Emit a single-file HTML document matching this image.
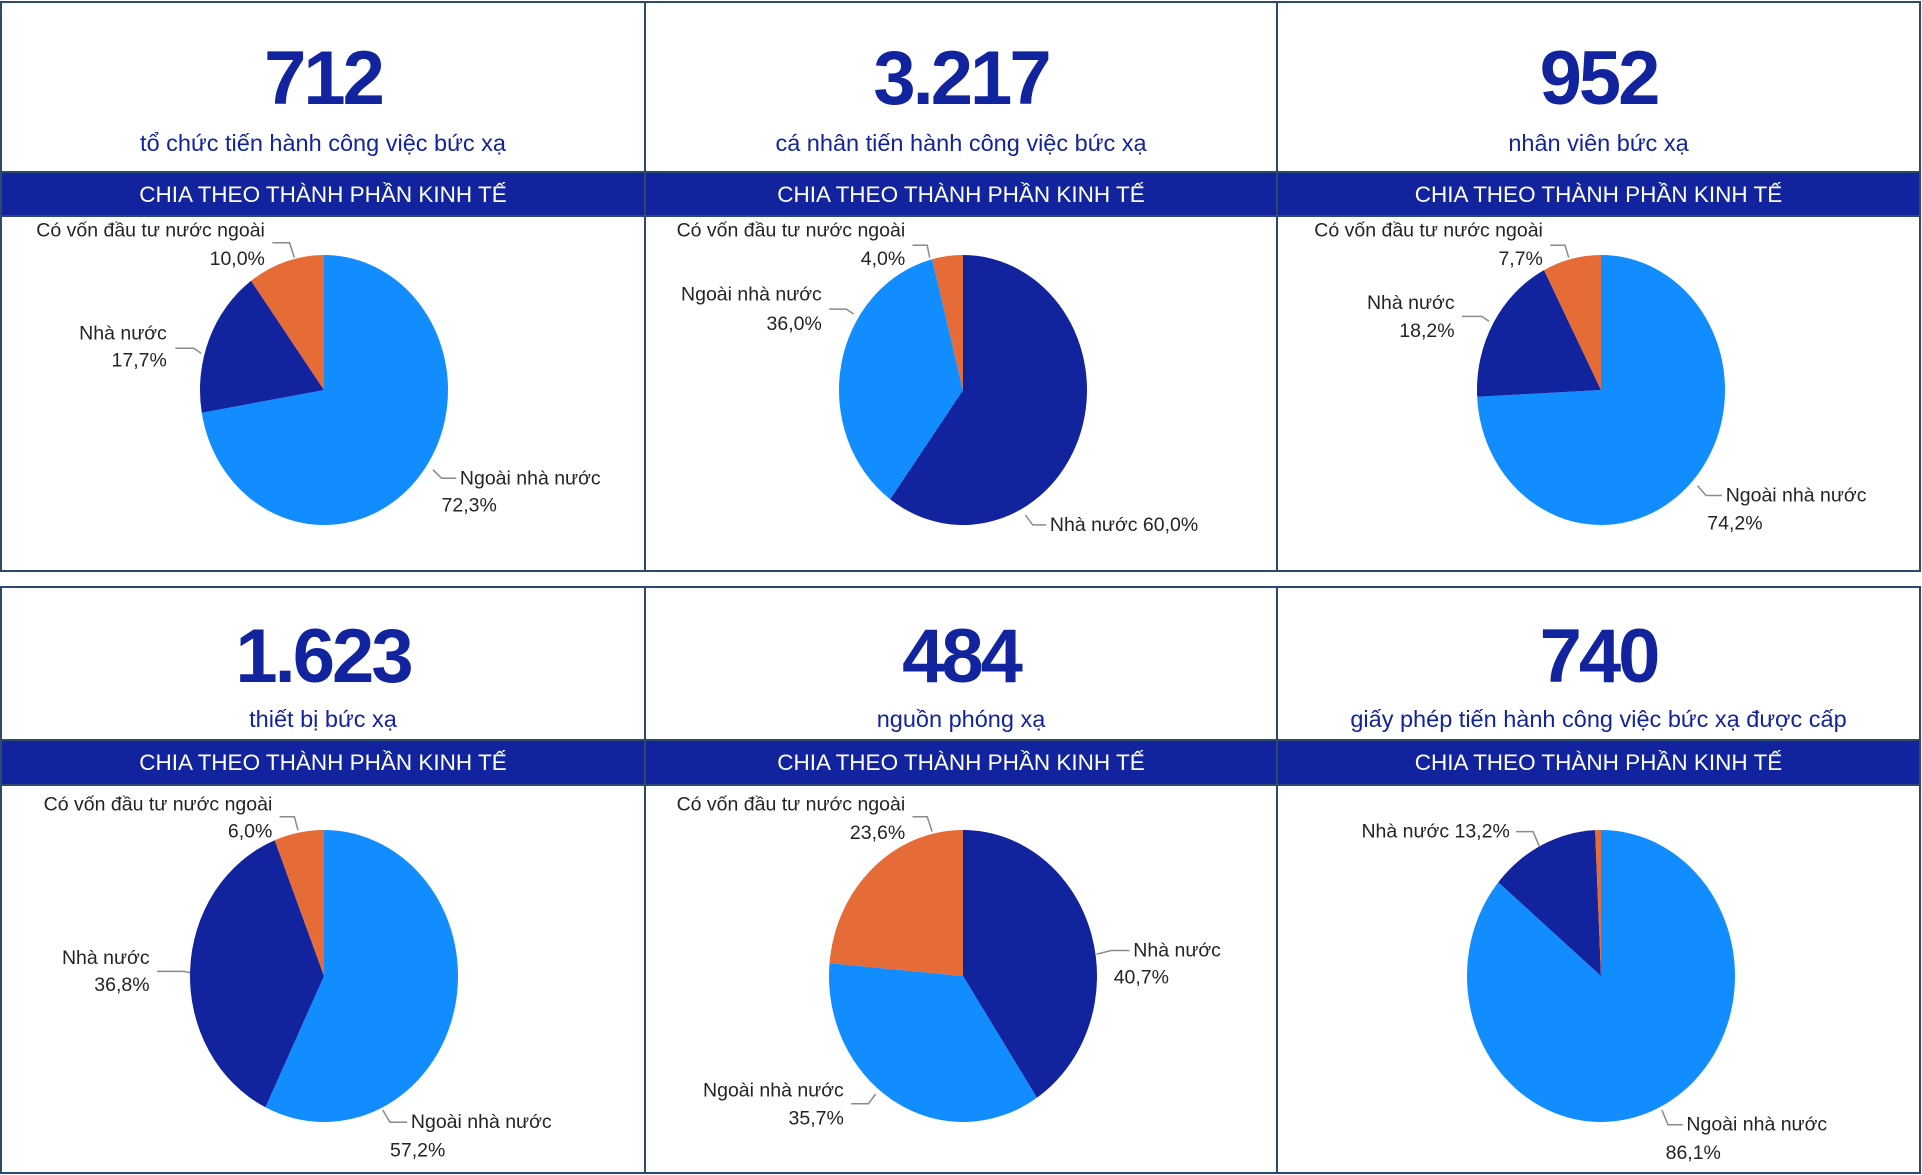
<!DOCTYPE html>
<html><head><meta charset="utf-8">
<style>
html,body{margin:0;padding:0;background:#fff;width:1922px;height:1175px;overflow:hidden}
svg{display:block}
.big{font-family:"Liberation Sans",sans-serif;font-weight:bold;fill:#12239E;font-size:76px;letter-spacing:-3px}
.sub{font-family:"Liberation Sans",sans-serif;fill:#12239E;font-size:23.5px}
.band{font-family:"Liberation Sans",sans-serif;fill:#fff;font-size:22.5px}
.lab{font-family:"Liberation Sans",sans-serif;fill:#252423;font-size:19.5px}
</style></head><body>
<svg id="s" width="1922" height="1175" xmlns="http://www.w3.org/2000/svg"></svg>
<script>
var s=document.getElementById('s'),h='';
var B='#2b4a6e',LB='#118DFF',DB='#12239E',OR='#E66C37';
var cols=[[1,645],[645,1277],[1277,1920]];
var rows=[{t:2,b1:172,b2:216,e:571,n:102,u:149},{t:587,b1:740,b2:785,e:1173,n:95,u:140}];
var nums=[['712','tổ chức tiến hành công việc bức xạ'],['3.217','cá nhân tiến hành công việc bức xạ'],['952','nhân viên bức xạ'],
['1.623','thiết bị bức xạ'],['484','nguồn phóng xạ'],['740','giấy phép tiến hành công việc bức xạ được cấp']];
for(var r=0;r<2;r++)for(var c=0;c<3;c++){
 var R=rows[r],C=cols[c],cx=(C[0]+C[1])/2,k=r*3+c;
 h+='<rect x="'+C[0]+'" y="'+R.t+'" width="'+(C[1]-C[0])+'" height="'+(R.e-R.t)+'" fill="#fff" stroke="'+B+'" stroke-width="2"/>';
 h+='<rect x="'+C[0]+'" y="'+R.b1+'" width="'+(C[1]-C[0])+'" height="'+(R.b2-R.b1)+'" fill="#12239E" stroke="'+B+'" stroke-width="2"/>';
 h+='<text class="big" x="'+cx+'" y="'+(R.t+R.n)+'" text-anchor="middle">'+nums[k][0]+'</text>';
 h+='<text class="sub" x="'+cx+'" y="'+(R.t+R.u)+'" text-anchor="middle">'+nums[k][1]+'</text>';
 h+='<text class="band" x="'+cx+'" y="'+(R.b1+30)+'" text-anchor="middle">CHIA THEO THÀNH PHẦN KINH TẾ</text>';
}
var pies=[
 {cx:324,cy:390,rx:124,ry:135,d:[[72.3,LB],[17.7,DB],[10,OR]]},
 {cx:963,cy:390,rx:124,ry:135,d:[[60,DB],[36,LB],[4,OR]]},
 {cx:1601,cy:390,rx:124,ry:135,d:[[74.2,LB],[18.2,DB],[7.6,OR]]},
 {cx:324,cy:976,rx:134,ry:146,d:[[57.2,LB],[36.8,DB],[6,OR]]},
 {cx:963,cy:976,rx:134,ry:146,d:[[40.7,DB],[35.7,LB],[23.6,OR]]},
 {cx:1601,cy:976,rx:134,ry:146,d:[[86.1,LB],[13.2,DB],[0.7,OR]]}];
pies.forEach(function(p){
 var a=0;
 p.d.forEach(function(q){
  var a1=a+q[0]/100*2*Math.PI;
  var x0=p.cx+p.rx*Math.sin(a),y0=p.cy-p.ry*Math.cos(a),x1=p.cx+p.rx*Math.sin(a1),y1=p.cy-p.ry*Math.cos(a1);
  h+='<path d="M'+p.cx+' '+p.cy+' L'+x0.toFixed(2)+' '+y0.toFixed(2)+' A'+p.rx+' '+p.ry+' 0 '+(a1-a>Math.PI?1:0)+' 1 '+x1.toFixed(2)+' '+y1.toFixed(2)+' Z" fill="'+q[1]+'"/>';
  a=a1;
 });
});
var S=1.2265;
function T(x,y,t,anc){h+='<text class="lab" x="'+(x*S).toFixed(1)+'" y="'+(y*S+6).toFixed(1)+'" text-anchor="'+anc+'">'+t+'</text>';}
function L(pts){h+='<polyline points="'+pts.map(function(v){return (v*S).toFixed(1)}).join(' ')+'" fill="none" stroke="#8a8a8a" stroke-width="1.5"/>';}
var F='Có vốn đầu tư nước ngoài',N='Nhà nước',G='Ngoài nhà nước';
T(216,188,F,'end');T(216,211,'10,0%','end');L([222,198,236,198,240,210]);
T(136,272,N,'end');T(136,294,'17,7%','end');L([143,284,158,284,164,288]);
T(375,390,G,'start');T(360,412,'72,3%','start');L([353,383,360,390,372,390]);
T(738,188,F,'end');T(738,211,'4,0%','end');L([744,200,756,200,758,210]);
T(670,240,G,'end');T(670,264,'36,0%','end');L([676,252,690,252,696,256]);
T(856,428,'Nhà nước 60,0%','start');L([836,420,842,428,853,428]);
T(1258,188,F,'end');T(1258,211,'7,7%','end');L([1264,200,1276,200,1279,210]);
T(1186,247,N,'end');T(1186,270,'18,2%','end');L([1192,258,1208,258,1214,262]);
T(1407,404,G,'start');T(1392,427,'74,2%','start');L([1384,396,1391,404,1404,404]);
T(222,656,F,'end');T(222,678,'6,0%','end');L([228,666,240,666,243,677]);
T(122,781,N,'end');T(122,803,'36,8%','end');L([128,792,150,792,155,793]);
T(335,915,G,'start');T(318,938,'57,2%','start');L([312,905,318,915,332,915]);
T(738,656,F,'end');T(738,679,'23,6%','end');L([744,666,756,666,760,678]);
T(924,775,N,'start');T(908,797,'40,7%','start');L([894,778,906,775,921,775]);
T(688,889,G,'end');T(688,912,'35,7%','end');L([694,900,708,900,714,892]);
T(1231,678,'Nhà nước 13,2%','end');L([1236,678,1250,678,1255,690]);
T(1375,917,G,'start');T(1358,940,'86,1%','start');L([1355,905,1360,917,1372,917]);
s.innerHTML=h;
</script>
</body></html>
